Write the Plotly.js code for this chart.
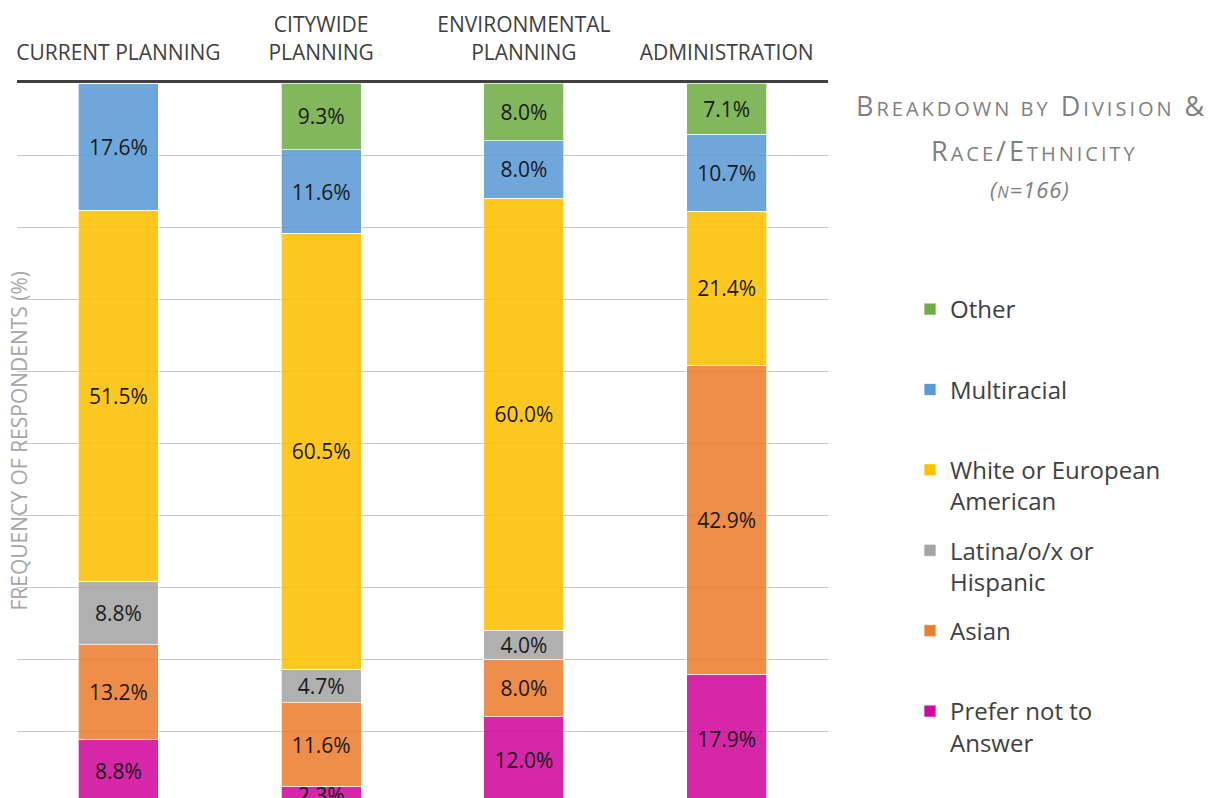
<!DOCTYPE html>
<html><head><meta charset="utf-8">
<script src="https://cdn.plot.ly/plotly-3.0.1.min.js"></script>
<style>html,body{margin:0;padding:0;background:#fff;} #chart{width:1217px;height:798px;}</style>
</head><body><div id="chart"></div>
<script>
// Categories (divisions)
const divisions = ['CURRENT PLANNING', 'CITYWIDE<br>PLANNING', 'ENVIRONMENTAL<br>PLANNING', 'ADMINISTRATION'];
// Series names, bottom of stack first
const seriesNames = ['Prefer not to<br>Answer', 'Asian', 'Latina/o/x or<br>Hispanic', 'White or European<br>American', 'Multiracial', 'Other'];
// Series values (%)
const preferNot   = [8.8, 2.3, 12.0, 17.9];
const asian       = [13.2, 11.6, 8.0, 42.9];
const latinx      = [8.8, 4.7, 4.0, 0];
const white       = [51.5, 60.5, 60.0, 21.4];
const multiracial = [17.6, 11.6, 8.0, 10.7];
const other       = [0, 9.3, 8.0, 7.1];
const gridTicks   = [10, 20, 30, 40, 50, 60, 70, 80, 90, 100];

const seriesValues = [preferNot, asian, latinx, white, multiracial, other];
const colors = ['#D0089C', '#ED7D31', '#A5A5A5', '#FFC000', '#5B9BD5', '#70AD47'];

const FONT = 'Open Sans, Noto Sans, sans-serif';

const traces = seriesValues.map((vals, i) => ({
  type: 'bar',
  x: divisions,
  y: vals,
  name: seriesNames[i].includes('<br>') ? seriesNames[i] : seriesNames[i] + '<br>\u00a0',
  legendgroup: 'g' + i,
  legendrank: 1000 - i * 10,
  marker: { color: colors[i], opacity: 0.87, line: { color: 'rgba(255,255,255,0.7)', width: 1 } },
  text: vals.map(v => v > 0 ? v.toFixed(1) + '%' : ''),
  textposition: 'inside',
  insidetextanchor: 'middle',
  textangle: 0,
  constraintext: 'none',
  textfont: { family: FONT, size: 21, color: '#1a1a1a' },
  hoverinfo: 'skip'
}));

const plotTop = 83, plotH = 798 - 83, pxPerPct = 7.2;
const sc = 'font-size:20px';
const ls = 'letter-spacing:3px';

const layout = {
  width: 1217, height: 798,
  margin: { l: 17, r: 389, t: plotTop, b: 0, pad: 0 },
  paper_bgcolor: '#ffffff', plot_bgcolor: '#ffffff',
  barmode: 'stack',
  bargap: 0.605,
  font: { family: FONT, color: '#404040' },
  xaxis: {
    type: 'category', side: 'top',
    showline: true, linecolor: '#404040', linewidth: 3,
    ticks: '', showgrid: false,
    ticklabelstandoff: 12,
    tickfont: { family: FONT, size: 21, color: '#404040' },
    fixedrange: true
  },
  yaxis: {
    range: [100 - plotH / pxPerPct, 100],
    tickvals: gridTicks,
    showticklabels: false,
    showgrid: true, gridcolor: '#c8c8c8', gridwidth: 1,
    zeroline: false, showline: false, ticks: '',
    fixedrange: true
  },
  showlegend: true,
  legend: {
    x: (910 - 17) / 811, xanchor: 'left',
    y: (798 - 287) / plotH, yanchor: 'top',
    traceorder: 'grouped',
    tracegroupgap: 15,
    valign: 'top',
    font: { family: FONT, size: 24, color: '#404040' },
    bgcolor: 'rgba(0,0,0,0)'
  },
  annotations: [
    {
      text: 'FREQUENCY OF RESPONDENTS (%)',
      xref: 'paper', yref: 'paper', x: 0, y: 0.5, xshift: 1,
      xanchor: 'center', yanchor: 'middle', textangle: -90, showarrow: false,
      font: { family: FONT, size: 21, color: '#a6a6a6' }
    },
    {
      text: `<span style="${ls}">B<span style="${sc}">REAKDOWN BY</span> D<span style="${sc}">IVISION</span> &amp;</span>`,
      xref: 'paper', yref: 'paper', x: (1031 - 17) / 811, y: (798 - 106) / plotH,
      xanchor: 'center', yanchor: 'middle', showarrow: false,
      font: { family: FONT, size: 27, color: '#7f7f7f' }
    },
    {
      text: `<span style="${ls}">R<span style="${sc}">ACE</span>/E<span style="${sc}">THNICITY</span></span>`,
      xref: 'paper', yref: 'paper', x: (1034 - 17) / 811, y: (798 - 150) / plotH,
      xanchor: 'center', yanchor: 'middle', showarrow: false,
      font: { family: FONT, size: 27, color: '#7f7f7f' }
    },
    {
      text: '<i><span style="letter-spacing:1px">(<span style="font-size:16px">N</span>=166)</span></i>',
      xref: 'paper', yref: 'paper', x: (1030 - 17) / 811, y: (798 - 189) / plotH,
      xanchor: 'center', yanchor: 'middle', showarrow: false,
      font: { family: FONT, size: 22, color: '#7f7f7f' }
    }
  ]
};

Plotly.newPlot('chart', traces, layout, { displayModeBar: false, staticPlot: true });
</script>
</body></html>
